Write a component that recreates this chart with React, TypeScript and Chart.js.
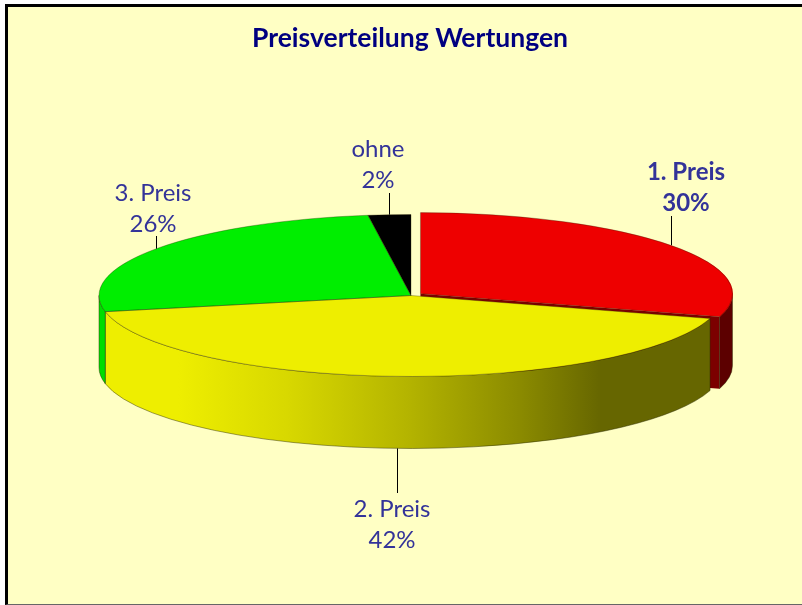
import React, { useEffect, useRef } from "react";
import { Chart, registerables } from "chart.js";

Chart.register(...registerables);

const chartTitle = "Preisverteilung Wertungen";
const categories = ["1. Preis", "2. Preis", "3. Preis", "ohne"];
const shares = [29.6, 42.2, 26.0, 2.2];
const topColors = ["#ee0000", "#eeee00", "#00ee00", "#000000"];
const wallColors = ["#5c0000", "#666600", "#00dd00", "#000000"];
const sliceOffsets = [38, 0, 0, 0];
const labelBold = [true, false, false, false];
// leader line end (y) and label centre relative to the leader's top end
const leaderEndY = [216, 493, 236, 193];
const labelCentreX = [686, 392, 153, 378];
const labelLine1Y = [172, 509, 193, 149];

const FONT = "Lato, 'Open Sans', sans-serif";
const CX = 411, CY = 295.5, RX = 312, RY = 81, DEPTH = 72;

function layout(chart: any) {
  const arcs = chart.getDatasetMeta(0).data as any[];
  const a0 = arcs[0];
  const R = a0.outerRadius;
  return { arcs, R, sx: RX / R, sy: RY / R, ax: a0.x, ay: a0.y };
}

function sliceCentre(arc: any, l: any) {
  const mid = (arc.startAngle + arc.endAngle) / 2;
  // Chart.js moves an offset arc by a quarter of its offset option when drawing
  const off = (arc.options.offset || 0) / 4;
  return {
    x: CX + Math.cos(mid) * off * l.sx,
    y: CY + Math.sin(mid) * off * l.sy,
    mid,
  };
}

const pie3d = {
  id: "pie3d",
  beforeDatasetsDraw(chart: any) {
    const ctx = chart.ctx as CanvasRenderingContext2D;
    const l = layout(chart);
    // walls are drawn back-to-front: offset slice first, then the others
    l.arcs.forEach((arc, i) => {
      const c = sliceCentre(arc, l);
      const from = Math.max(arc.startAngle, 0);
      const to = Math.min(arc.endAngle, Math.PI);
      if (sliceOffsets[i] > 0) {
        const ex = c.x + Math.cos(arc.endAngle) * RX;
        const ey = c.y + Math.sin(arc.endAngle) * RY;
        ctx.beginPath();
        ctx.moveTo(c.x, c.y);
        ctx.lineTo(ex, ey);
        ctx.lineTo(ex, ey + DEPTH);
        ctx.lineTo(c.x, c.y + DEPTH);
        ctx.closePath();
        ctx.fillStyle = "#7c0000";
        ctx.fill();
      }
      if (to <= from) return;
      ctx.beginPath();
      ctx.ellipse(c.x, c.y, RX, RY, 0, from, to);
      ctx.ellipse(c.x, c.y + DEPTH, RX, RY, 0, to, from, true);
      ctx.closePath();
      if (i === 1) {
        const x0 = c.x + Math.cos(to) * RX;
        const x1 = c.x + Math.cos(from) * RX;
        const g = ctx.createLinearGradient(x0, 0, x1, 0);
        g.addColorStop(0, "#eeee00");
        g.addColorStop(0.12, "#eeee00");
        g.addColorStop(0.3, "#d8d800");
        g.addColorStop(0.5, "#b4b400");
        g.addColorStop(0.68, "#8c8c00");
        g.addColorStop(0.82, "#666600");
        g.addColorStop(1, "#666600");
        ctx.fillStyle = g;
      } else {
        ctx.fillStyle = wallColors[i];
      }
      ctx.fill();
      ctx.lineWidth = 1;
      ctx.strokeStyle = "rgba(40,40,0,0.45)";
      ctx.stroke();
    });
    ctx.save();
    ctx.translate(CX, CY);
    ctx.scale(l.sx, l.sy);
    ctx.translate(-l.ax, -l.ay);
  },
  afterDatasetsDraw(chart: any) {
    const ctx = chart.ctx as CanvasRenderingContext2D;
    ctx.restore();
    const l = layout(chart);
    l.arcs.forEach((arc) => {
      const c = sliceCentre(arc, l);
      ctx.beginPath();
      ctx.moveTo(c.x, c.y);
      ctx.ellipse(c.x, c.y, RX, RY, 0, arc.startAngle, arc.endAngle);
      ctx.closePath();
      ctx.lineWidth = 0.8;
      ctx.strokeStyle = "rgba(40,30,0,0.4)";
      ctx.stroke();
    });
    // leader lines and labels
    l.arcs.forEach((arc, i) => {
      const c = sliceCentre(arc, l);
      const px = c.x + Math.cos(c.mid) * RX;
      let py = c.y + Math.sin(c.mid) * RY;
      if (Math.sin(c.mid) > 0) py += DEPTH;
      ctx.beginPath();
      ctx.moveTo(Math.round(px) + 0.5, py);
      ctx.lineTo(Math.round(px) + 0.5, leaderEndY[i]);
      ctx.lineWidth = 1;
      ctx.strokeStyle = "#000000";
      ctx.stroke();

      ctx.fillStyle = "#333399";
      ctx.textAlign = "center";
      ctx.textBaseline = "middle";
      ctx.font = `${labelBold[i] ? "bold " : ""}24px ${FONT}`;
      ctx.fillText(categories[i], labelCentreX[i], labelLine1Y[i]);
      ctx.fillText(`${Math.round(shares[i])}%`, labelCentreX[i], labelLine1Y[i] + 31);
    });
  },
};

export default function App() {
  const ref = useRef<HTMLCanvasElement>(null);
  useEffect(() => {
    const chart = new Chart(ref.current as HTMLCanvasElement, {
      type: "pie",
      data: {
        labels: categories,
        datasets: [
          {
            data: shares,
            backgroundColor: topColors,
            borderWidth: 0,
            offset: sliceOffsets,
          } as any,
        ],
      },
      options: {
        responsive: false,
        animation: false,
        layout: { padding: { left: 18 } },
        plugins: {
          legend: { display: false },
          tooltip: { enabled: false },
          title: {
            display: true,
            text: chartTitle,
            color: "#000080",
            font: { family: FONT, size: 26.5, weight: "bold" },
            padding: { top: 23, bottom: 10 },
          },
        },
      },
      plugins: [pie3d],
    });
    return () => chart.destroy();
  }, []);
  return (
    <div style={{ position: "fixed", left: 0, top: 0, width: 802, height: 605, background: "#ffffff", overflow: "hidden" }}>
      <div
        style={{
          position: "absolute",
          left: 5,
          top: 4,
          width: 820,
          height: 597,
          background: "#ffffc4",
          borderLeft: "3px solid #000",
          borderTop: "3px solid #000",
          borderBottom: "1px solid #666",
        }}
      />
      <canvas ref={ref} width={802} height={605} style={{ position: "absolute", left: 0, top: 0, display: "block" }} />
    </div>
  );
}
